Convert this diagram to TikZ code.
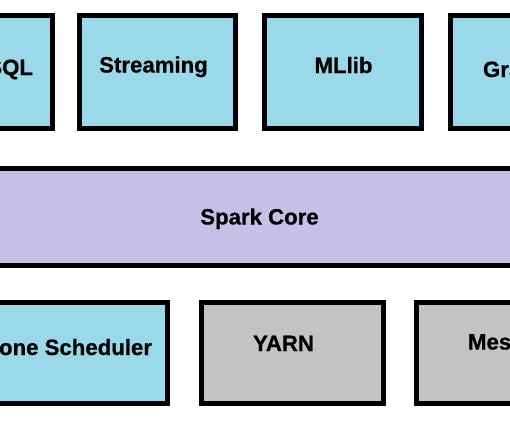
\documentclass[tikz,border=0pt]{standalone}
\usepackage{fontspec}
\setmainfont{Liberation Sans}
\newfontfamily\heavyfont[FakeBold=0.6]{Liberation Sans Bold}
\definecolor{lblue}{HTML}{99D9EA}
\definecolor{lav}{HTML}{C8BFE7}
\definecolor{lgray}{HTML}{C3C3C3}
\begin{document}
\begin{tikzpicture}[x=1pt,y=-1pt,
  box/.style={draw=black,line width=5pt,rectangle,inner sep=0pt,outer sep=0pt},
  txt/.style={inner sep=0pt,outer sep=0pt,font=\heavyfont\fontsize{22.2}{25}\selectfont}]
\useasboundingbox (0,0) rectangle (510,421);
\clip (0,0) rectangle (510,421);
% top row
\node[box,fill=lblue,minimum width=156pt,minimum height=113pt] (sql) at (-26,71.5) {};
\node[box,fill=lblue,minimum width=156pt,minimum height=113pt] (streaming) at (157.5,71.5) {};
\node[box,fill=lblue,minimum width=157pt,minimum height=113pt] (mllib) at (343,71.5) {};
\node[box,fill=lblue,minimum width=157pt,minimum height=113pt] (graphx) at (529,71.5) {};
\node[txt,anchor=base east] (tsql) at (33,75) {SQL};
\node[txt,anchor=base] (tstreaming) at (153.5,72.5) {Streaming};
\node[txt,anchor=base] (tmllib) at (343.5,73) {MLlib};
\node[txt,anchor=base west] (tgraphx) at (483,77) {GraphX};
% core
\node[box,fill=lav,minimum width=560pt,minimum height=97pt] (core) at (255,217) {};
\node[txt,anchor=base] (tcore) at (259.5,224.5) {Spark Core};
% bottom row
\node[box,fill=lblue,minimum width=262pt,minimum height=100.5pt] (standalone) at (36.5,352.75) {};
\node[box,fill=lgray,minimum width=182pt,minimum height=100.5pt] (yarn) at (292.5,352.75) {};
\node[box,fill=lgray,minimum width=182pt,minimum height=100.5pt] (mesos) at (507.5,352.75) {};
\node[txt,anchor=base east] (tstandalone) at (152,355) {Standalone Scheduler};
\node[txt,anchor=base] (tyarn) at (283.5,351) {YARN};
\node[txt,anchor=base west] (tmesos) at (468,349.5) {Mesos};
\end{tikzpicture}
\end{document}
